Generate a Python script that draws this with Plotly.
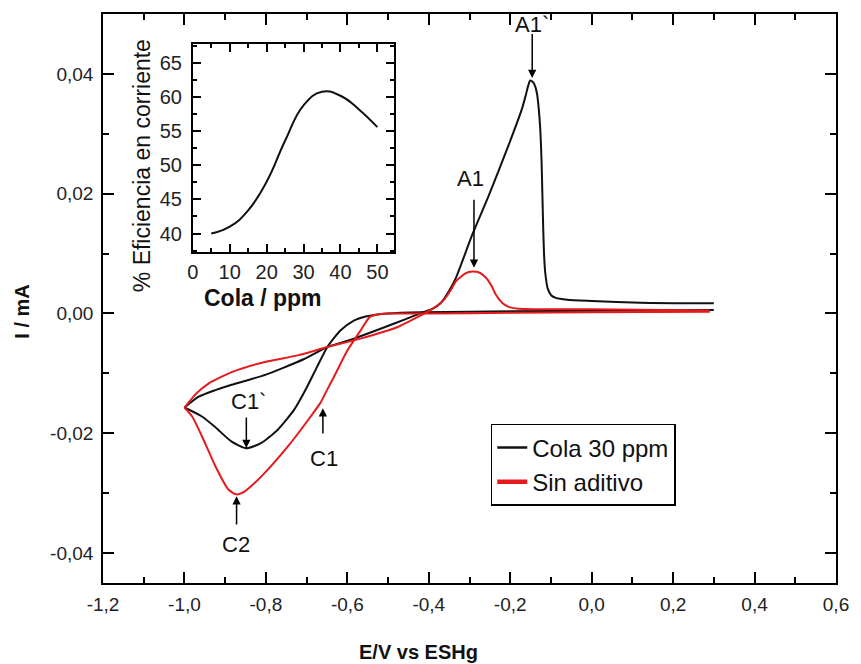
import plotly.graph_objects as go

# ---------------- data ----------------
# Cola 30 ppm (black) : cathodic scan (0.3 V -> -1.0 V)
cola_cat_E = [0.30, 0.10, -0.10, -0.30, -0.42, -0.50, -0.53, -0.555, -0.584, -0.617, -0.649,
              -0.675, -0.700, -0.730, -0.771, -0.811, -0.848, -0.884, -0.924, -0.957, -1.0]
cola_cat_I = [0.0006, 0.0005, 0.0004, 0.0003, 0.0002, 0.0000, -0.0002, -0.0005, -0.0012, -0.00285, -0.0056,
              -0.0090, -0.0124, -0.0160, -0.0194, -0.0216, -0.0225, -0.0214, -0.0190, -0.0172, -0.0157]
# Cola 30 ppm (black) : anodic scan (-1.0 V -> 0.3 V)
cola_an_E = [-1.0, -0.965, -0.924, -0.884, -0.843, -0.80, -0.762, -0.706, -0.649, -0.584, -0.52, -0.455,
             -0.414, -0.39, -0.37, -0.35, -0.333, -0.293, -0.252, -0.204, -0.171, -0.162, -0.156, -0.151,
             -0.145, -0.139, -0.134, -0.130, -0.126, -0.123, -0.121, -0.119, -0.117, -0.114, -0.108, -0.099,
             -0.088, -0.06, 0.0, 0.12, 0.30]
cola_an_I = [-0.0157, -0.0139, -0.0128, -0.0119, -0.0111, -0.0102, -0.0092, -0.0076, -0.0056, -0.0042, -0.0026, -0.0009,
             0.0002, 0.0008, 0.0018, 0.0038, 0.0060, 0.0132, 0.0198, 0.0281, 0.0342, 0.0364, 0.0380, 0.0389,
             0.0387, 0.0380, 0.0366, 0.0342, 0.0305, 0.0253, 0.0198, 0.0143, 0.0100, 0.0068, 0.0042, 0.0030,
             0.0026, 0.0023, 0.0021, 0.0018, 0.0017]

# Sin aditivo (red) : cathodic scan
sin_cat_E = [0.29, 0.0, -0.2, -0.4, -0.50, -0.52, -0.545, -0.568, -0.60, -0.633, -0.650, -0.665, -0.690,
             -0.746, -0.811, -0.852, -0.872, -0.892, -0.924, -0.957, -0.981, -1.0]
sin_cat_I = [0.0003, 0.0002, 0.0001, 0.0, 0.0, -0.0001, -0.0006, -0.0029, -0.0062, -0.0106, -0.0128, -0.0148, -0.0172,
             -0.0222, -0.0272, -0.0297, -0.0302, -0.0294, -0.0255, -0.0205, -0.0172, -0.0157]
# Sin aditivo (red) : anodic scan
sin_an_E = [-1.0, -0.97, -0.941, -0.884, -0.803, -0.722, -0.649, -0.568, -0.478, -0.414, -0.39, -0.365,
            -0.345, -0.333, -0.31, -0.293, -0.275, -0.26, -0.245, -0.236, -0.22, -0.204, -0.18, 0.0, 0.29]
sin_an_I = [-0.0157, -0.0133, -0.0117, -0.0098, -0.0081, -0.0070, -0.0056, -0.0042, -0.0023, -0.0001, 0.0008, 0.0021,
            0.0040, 0.0054, 0.0067, 0.0070, 0.0068, 0.0060, 0.0045, 0.0032, 0.0018, 0.0011, 0.0008, 0.0007, 0.0005]

# Inset: current efficiency vs glue concentration
cola_ppm = [5, 10, 15, 20, 25, 30, 35, 40, 45, 50]
eficiencia = [40.0, 41.0, 43.4, 47.6, 53.6, 58.8, 60.8, 60.2, 58.2, 55.6]

# tick labels
x_ticks = [-1.2, -1.0, -0.8, -0.6, -0.4, -0.2, 0.0, 0.2, 0.4, 0.6]
x_ticktext = ["-1,2", "-1,0", "-0,8", "-0,6", "-0,4", "-0,2", "0,0", "0,2", "0,4", "0,6"]
x_minor = [-1.1, -0.9, -0.7, -0.5, -0.3, -0.1, 0.1, 0.3, 0.5]
y_ticks = [-0.04, -0.02, 0.0, 0.02, 0.04]
y_ticktext = ["-0,04", "-0,02", "0,00", "0,02", "0,04"]
y_minor = [-0.03, -0.01, 0.01, 0.03]
in_x_ticks = [0, 10, 20, 30, 40, 50]
in_x_minor = [5, 15, 25, 35, 45]
in_y_ticks = [40, 45, 50, 55, 60, 65]
in_y_minor = [37.5, 42.5, 47.5, 52.5, 57.5, 62.5, 67.5]

BLACK = "#111111"
RED = "#e41a1c"
FONT = "Liberation Sans, Arial, sans-serif"

fig = go.Figure()
for E, I, col in [(cola_cat_E, cola_cat_I, BLACK), (cola_an_E, cola_an_I, BLACK),
                  (sin_cat_E, sin_cat_I, RED), (sin_an_E, sin_an_I, RED)]:
    fig.add_trace(go.Scatter(x=E, y=I, mode="lines", showlegend=False,
                             line=dict(color=col, width=2, shape="spline", smoothing=0.6),
                             xaxis="x", yaxis="y"))
# legend entries
fig.add_trace(go.Scatter(x=[None], y=[None], mode="lines", name="Cola 30 ppm",
                         line=dict(color=BLACK, width=2.5)))
fig.add_trace(go.Scatter(x=[None], y=[None], mode="lines", name="Sin aditivo",
                         line=dict(color=RED, width=4.5)))
# inset
fig.add_trace(go.Scatter(x=cola_ppm, y=eficiencia, mode="lines", showlegend=False,
                         line=dict(color=BLACK, width=2, shape="spline", smoothing=1.3),
                         xaxis="x2", yaxis="y2"))

axis_common = dict(showline=True, linecolor="black", linewidth=1.6, mirror="allticks",
                   ticks="inside", tickcolor="black", tickwidth=1.5, showgrid=False, zeroline=False)

fig.update_layout(
    width=861, height=664,
    margin=dict(l=103, r=17, t=13, b=81),
    paper_bgcolor="white", plot_bgcolor="white",
    font=dict(family=FONT, color="#222222"),
    xaxis=dict(range=[-1.2, 0.6], tickvals=x_ticks, ticktext=x_ticktext, ticklen=11,
               minor=dict(tickvals=x_minor, ticklen=6, ticks="inside", tickcolor="black", tickwidth=1.5),
               tickfont=dict(size=19), ticklabelstandoff=3, **axis_common),
    yaxis=dict(range=[-0.045, 0.05], tickvals=y_ticks, ticktext=y_ticktext, ticklen=11,
               minor=dict(tickvals=y_minor, ticklen=6, ticks="inside", tickcolor="black", tickwidth=1.5),
               tickfont=dict(size=19), ticklabelstandoff=4, **axis_common),
    xaxis2=dict(domain=[0.1225, 0.397], anchor="y2", range=[0, 54.5], tickvals=in_x_ticks, ticklen=8,
                minor=dict(tickvals=in_x_minor, ticklen=4, ticks="inside", tickcolor="black", tickwidth=1.5),
                tickfont=dict(size=20), ticklabelstandoff=1, **axis_common),
    yaxis2=dict(domain=[0.5818, 0.9474], anchor="x2", range=[37.3, 67.8], tickvals=in_y_ticks, ticklen=8,
                minor=dict(tickvals=in_y_minor, ticklen=4, ticks="inside", tickcolor="black", tickwidth=1.5),
                tickfont=dict(size=20), ticklabelstandoff=5, **axis_common),
    legend=dict(x=0.529, y=0.2795, xanchor="left", yanchor="top", bgcolor="white",
                bordercolor="black", borderwidth=1.5, font=dict(size=24, color="#111"),
                tracegroupgap=0),
)

# axis titles
fig.add_annotation(text="<b>E/V vs ESHg</b>", xref="paper", yref="paper", x=0.430, y=-0.122,
                   showarrow=False, font=dict(size=20, color="#111"), xanchor="center", yanchor="middle")
fig.add_annotation(text="<b>I / mA</b>", xref="paper", yref="paper", x=-0.1098, y=0.476,
                   textangle=-90, showarrow=False, font=dict(size=20, color="#111"),
                   xanchor="center", yanchor="middle")
# inset axis titles
fig.add_annotation(text="<b>Cola / ppm</b>", xref="paper", yref="paper", x=0.2183, y=0.5005,
                   showarrow=False, font=dict(size=23, color="#111"), xanchor="center", yanchor="middle")
fig.add_annotation(text="% Eficiencia en corriente", xref="paper", yref="paper", x=0.0536, y=0.733,
                   textangle=-90, showarrow=False, font=dict(size=23, color="#111"),
                   xanchor="center", yanchor="middle")

# peak labels and arrows (head at peak, tail offset)
arrows = [  # head E, head I, tail E, tail I
    (-0.146, 0.0393, -0.146, 0.0469),
    (-0.289, 0.00765, -0.289, 0.01925),
    (-0.848, -0.02247, -0.848, -0.01711),
    (-0.660, -0.01584, -0.660, -0.02027),
    (-0.872, -0.0305, -0.872, -0.03547),
]
for hx, hy, tx, ty in arrows:
    fig.add_annotation(x=hx, y=hy, ax=tx, ay=ty, xref="x", yref="y", axref="x", ayref="y",
                       text="", showarrow=True, arrowhead=2, arrowsize=1.1, arrowwidth=1.5,
                       arrowcolor="black", standoff=0, startstandoff=0)
labels = [("A1`", -0.146, 0.0482), ("A1", -0.297, 0.02257), ("C1`", -0.843, -0.01474),
          ("C1", -0.657, -0.02413), ("C2", -0.873, -0.0385)]
for t, lx, ly in labels:
    fig.add_annotation(x=lx, y=ly, xref="x", yref="y", text=t, showarrow=False,
                       font=dict(size=22, color="#111"))

fig.write_html("out.html")
